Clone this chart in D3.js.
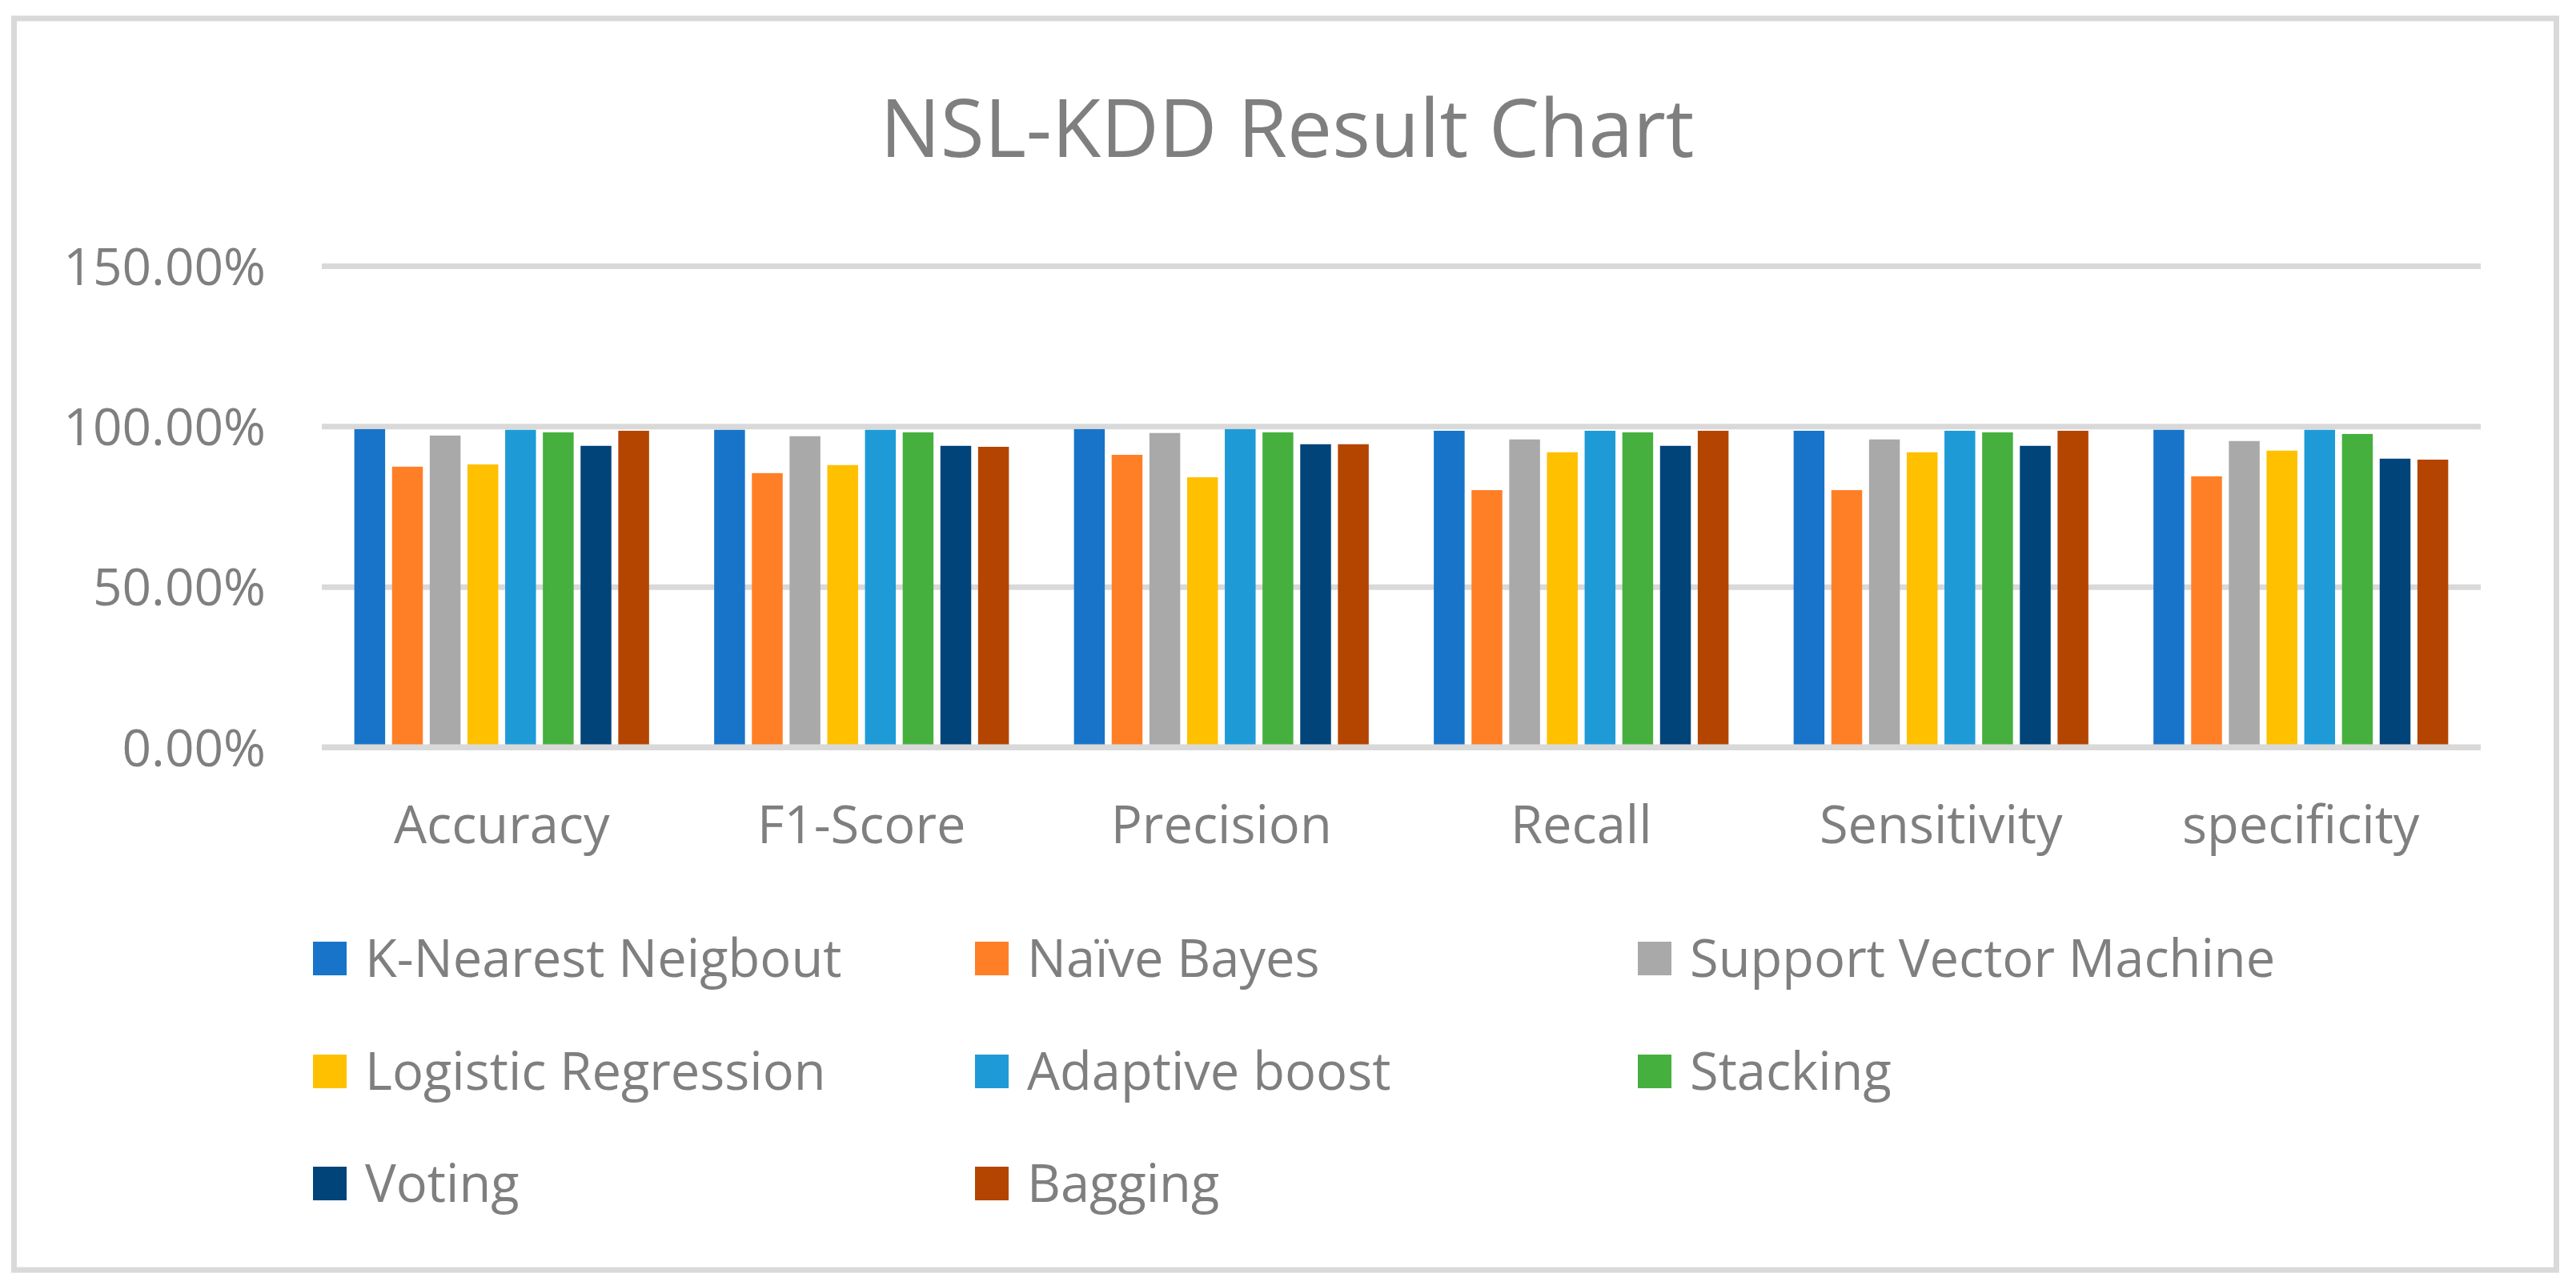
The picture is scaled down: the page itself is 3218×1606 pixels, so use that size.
<!DOCTYPE html>
<html>
<head>
<meta charset="utf-8">
<script src="https://cdn.jsdelivr.net/npm/d3@7"></script>
<style>
    body { margin: 0; background: #fff; }
    text { font-family: "Open Sans", sans-serif; fill: #7f7f7f; }
</style>
</head>
<body>
<svg id="chart" width="3218" height="1606"></svg>
<script>
// Metrics on the x axis
const metrics = ["Accuracy", "F1-Score", "Precision", "Recall", "Sensitivity", "specificity"];

// Classifiers (one series each)
const models = ["K-Nearest Neigbout", "Naïve Bayes", "Support Vector Machine",
                "Logistic Regression", "Adaptive boost", "Stacking", "Voting", "Bagging"];

const modelColors = ["#1874c9", "#ff7f27", "#a9a9a9", "#ffc000",
                     "#1e9bd7", "#45b03d", "#00447a", "#b44500"];

// values per model, in the order of metrics
const knn      = [0.991, 0.989, 0.991, 0.986, 0.986, 0.989];
const naive    = [0.874, 0.854, 0.911, 0.801, 0.801, 0.844];
const svm      = [0.971, 0.969, 0.979, 0.959, 0.959, 0.954];
const logistic = [0.881, 0.879, 0.841, 0.919, 0.919, 0.924];
const adaboost = [0.989, 0.989, 0.991, 0.986, 0.986, 0.989];
const stacking = [0.981, 0.981, 0.981, 0.981, 0.981, 0.976];
const voting   = [0.939, 0.939, 0.944, 0.939, 0.939, 0.899];
const bagging  = [0.986, 0.936, 0.944, 0.986, 0.986, 0.896];

const seriesValues = [knn, naive, svm, logistic, adaboost, stacking, voting, bagging];

// y axis ticks
const yTicks = [0, 0.5, 1.0, 1.5];

class ResultChart {

    constructor(svg) {
        this._svg = svg;
        this.gridColor = "#d9d9d9";

        // plot area
        this.left = 402;
        this.right = 3099;
        this.top = 332;
        this.bottom = 933;

        this.x0 = d3.scaleBand()
            .domain(metrics)
            .range([this.left, this.right])
            .padding(0);
        this.x1 = d3.scaleBand()
            .domain(models)
            .range([0, this.x0.bandwidth()])
            .paddingInner(0.183)
            .paddingOuter(0.863);
        this.y = d3.scaleLinear()
            .domain([0, 1.5])
            .range([this.bottom, this.top]);
        this.color = d3.scaleOrdinal()
            .domain(models)
            .range(modelColors);
    }

    draw() {
        // outer border
        this._svg.append("rect")
            .attr("x", 17.5).attr("y", 23)
            .attr("width", 3176).attr("height", 1563)
            .attr("fill", "none")
            .attr("stroke", this.gridColor)
            .attr("stroke-width", 7);

        this._svg.append("text")
            .attr("x", 1608)
            .attr("y", 196)
            .attr("text-anchor", "middle")
            .style("font-size", "100px")
            .text("NSL-KDD Result Chart");

        // y axis with gridlines
        let yAxis = d3.axisLeft(this.y)
            .tickValues(yTicks)
            .tickFormat(d3.format(".2%"))
            .tickSizeInner(-(this.right - this.left))
            .tickSizeOuter(0)
            .tickPadding(70);
        let gy = this._svg.append("g")
            .attr("class", "y axis")
            .attr("transform", "translate(" + this.left + ",0)")
            .call(yAxis);
        gy.select(".domain").remove();
        gy.selectAll("line")
            .attr("stroke", this.gridColor)
            .attr("stroke-width", 7);
        gy.selectAll("text")
            .attr("dy", "0.36em")
            .style("font-size", "64px")
            .style("fill", "#7f7f7f");

        // bars
        let rows = metrics.map((m, i) => ({
            metric: m,
            values: models.map((name, j) => ({ name: name, value: seriesValues[j][i] }))
        }));

        let groups = this._svg.append("g")
            .selectAll("g")
            .data(rows)
            .join("g")
            .attr("transform", d => "translate(" + this.x0(d.metric) + ",0)");

        groups.selectAll("rect")
            .data(d => d.values)
            .join("rect")
            .attr("x", d => this.x1(d.name))
            .attr("y", d => this.y(d.value))
            .attr("width", this.x1.bandwidth())
            .attr("height", d => this.y(0) - this.y(d.value))
            .attr("fill", d => this.color(d.name));

        // horizontal axis line on top of the bars
        this._svg.append("line")
            .attr("x1", this.left).attr("x2", this.right)
            .attr("y1", this.y(0)).attr("y2", this.y(0))
            .attr("stroke", this.gridColor)
            .attr("stroke-width", 7);

        let xAxis = d3.axisBottom(this.x0)
            .tickSize(0)
            .tickPadding(74);
        let gx = this._svg.append("g")
            .attr("class", "x axis")
            .attr("transform", "translate(0," + this.y(0) + ")")
            .call(xAxis);
        gx.select(".domain").remove();
        gx.selectAll("text")
            .style("font-size", "65px")
            .style("fill", "#7f7f7f");

        this.drawLegend();
    }

    // 3 columns legend under the chart
    drawLegend() {
        let colX = [391, 1218, 2046];
        let rowY = [1197, 1338, 1478];

        let items = this._svg.append("g")
            .attr("class", "legend")
            .selectAll("g")
            .data(models)
            .join("g")
            .attr("transform", (d, i) => "translate(" + colX[i % 3] + "," + rowY[Math.floor(i / 3)] + ")");

        items.append("rect")
            .attr("x", 0).attr("y", -21)
            .attr("width", 42).attr("height", 42)
            .attr("fill", d => this.color(d));

        items.append("text")
            .attr("x", 65)
            .attr("y", 23)
            .style("font-size", "65px")
            .text(d => d);
    }
}

let chart = new ResultChart(d3.select("#chart"));
chart.draw();
</script>
</body>
</html>
